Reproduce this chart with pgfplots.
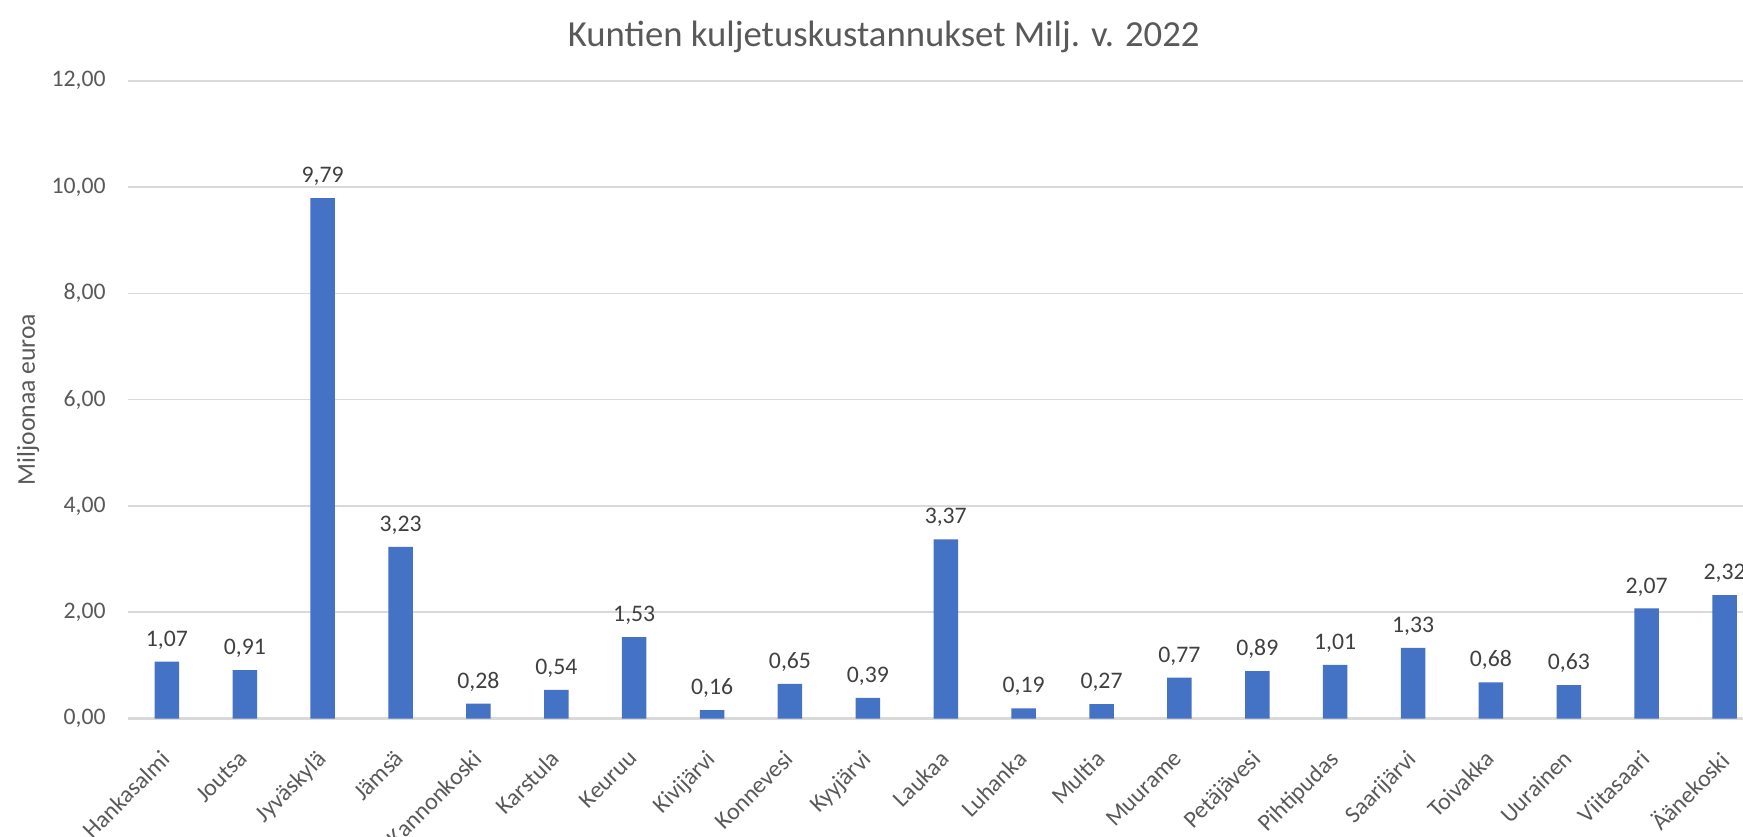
\documentclass[border=0pt]{standalone}
\usepackage{pgfplots}
\pgfplotsset{compat=1.18}
\usepackage{fontspec}
\setmainfont{Carlito}
\definecolor{barblue}{HTML}{4472C4}
\definecolor{gridgray}{HTML}{D9D9D9}
\definecolor{txtgray}{HTML}{595959}
\definecolor{lblgray}{HTML}{404040}
\begin{document}
\begin{tikzpicture}
\begin{axis}[
  scale only axis,
  width=16.355cm, height=6.378cm,
  xmin=-0.5, xmax=20.5, ymin=0, ymax=12,
  ytick={0,2,4,6,8,10,12},
  xtick=data,
  xticklabels={Hankasalmi,Joutsa,Jyväskylä,Jämsä,Kannonkoski,Karstula,Keuruu,Kivijärvi,Konnevesi,Kyyjärvi,Laukaa,Luhanka,Multia,Muurame,Petäjävesi,Pihtipudas,Saarijärvi,Toivakka,Uurainen,Viitasaari,Äänekoski},
  axis x line*=bottom, axis y line*=left,
  y axis line style={draw=none},
  x axis line style={draw=gridgray, line width=0.6pt},
  major tick length=0pt,
  ymajorgrids, grid style={draw=gridgray, line width=0.45pt},
  /pgf/number format/.cd, assume math mode=true, use comma, fixed, fixed zerofill, precision=2,
  /pgfplots/.cd,
  yticklabel style={font=\fontsize{6.75pt}{8pt}\selectfont, text=txtgray, xshift=-0.1cm},
  xticklabel style={xshift=-0.07cm, yshift=-0.13cm, font=\fontsize{6.8pt}{8pt}\selectfont, text=txtgray, rotate=45, anchor=north east},
  ylabel={Miljoonaa euroa},
  ylabel style={at={(rel axis cs:-0.061,0.5)}, anchor=center, font=\fontsize{7.3pt}{9pt}\selectfont, text=txtgray},
  title={Kuntien kuljetuskustannukset Milj. v. 2022},
  title style={at={(rel axis cs:0.5,1)}, anchor=base, xshift=-0.62cm, yshift=0.132cm, font=\fontsize{10.45pt}{12pt}\selectfont, text=txtgray},
  nodes near coords,
  nodes near coords style={font=\fontsize{6.75pt}{8pt}\selectfont, text=lblgray, anchor=south},
]
\addplot[ybar, bar width=0.245cm, fill=barblue, draw=none] coordinates {
(0,1.07) (1,0.91) (2,9.79) (3,3.23) (4,0.28) (5,0.54) (6,1.53) (7,0.16) (8,0.65) (9,0.39) (10,3.37)
(11,0.19) (12,0.27) (13,0.77) (14,0.89) (15,1.01) (16,1.33) (17,0.68) (18,0.63) (19,2.07) (20,2.32)
};
\end{axis}
\pgfresetboundingbox
\path[use as bounding box] (current axis.south west) ++(-1.28cm,-1.175cm) rectangle ++(17.43cm,8.36cm);
\end{tikzpicture}
\end{document}
